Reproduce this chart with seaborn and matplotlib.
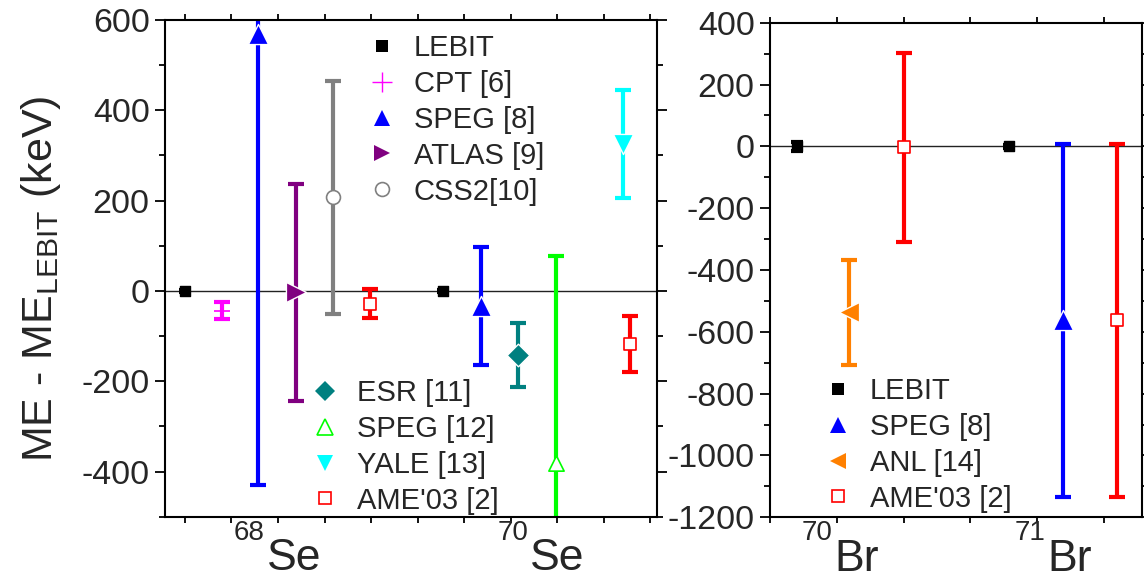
import matplotlib
matplotlib.use("Agg")
import matplotlib.pyplot as plt
import matplotlib.transforms as mtransforms
from matplotlib.lines import Line2D
from matplotlib.ticker import MultipleLocator, NullFormatter
import seaborn as sns
import pandas as pd

# ---- Data: mass excess differences relative to LEBIT (keV) ----
# Se isotopes (68Se, 70Se)
se_sources = ["LEBIT", "CPT [6]", "SPEG [8]", "ATLAS [9]", "CSS2[10]", "AME'03 [2]",
              "LEBIT", "SPEG [8]", "ESR [11]", "SPEG [12]", "YALE [13]", "AME'03 [2]"]
se_values = [0, -44, 570, -3, 208, -28,
             0, -33, -142, -380, 325, -118]
se_errors = [2, 19, 1000, 240, 258, 32,
             2, 130, 70, 457, 120, 62]

# Br isotopes (70Br, 71Br)
br_sources = ["LEBIT", "ANL [14]", "AME'03 [2]",
              "LEBIT", "SPEG [8]", "AME'03 [2]"]
br_values = [0, -537, -3, 0, -563, -563]
br_errors = [15, 170, 306, 5, 570, 570]

# Isotope labels under each panel
se_isotopes = [("68", "Se"), ("70", "Se")]
br_isotopes = [("70", "Br"), ("71", "Br")]

# ---- Layout: horizontal slots of each measurement ----
se_slots = [0.0, 0.8, 1.57, 2.39, 3.18, 3.98, 5.55, 6.37, 7.16, 7.98, 9.42, 9.57]
br_slots = [0.40, 1.18, 2.0, 3.58, 4.38, 5.19]
se_label_x = [1.76, 7.42]
br_label_x = [0.96, 4.15]

# marker, colour, filled, marker size (pt)
styles = {
    "LEBIT":      ("s", "#000000", True, 7),
    "CPT [6]":    ("+", "#FF00FF", True, 11),
    "SPEG [8]":   ("^", "#0000FF", True, 12),
    "ATLAS [9]":  (">", "#800080", True, 12),
    "CSS2[10]":   ("o", "#808080", False, 10),
    "AME'03 [2]": ("s", "#FF0000", False, 9),
    "ESR [11]":   ("D", "#008080", True, 9),
    "SPEG [12]":  ("^", "#00FF00", False, 11),
    "YALE [13]":  ("v", "#00FFFF", True, 12),
    "ANL [14]":   ("<", "#FF8000", True, 12),
}

sns.set_theme(style="ticks")
plt.rcParams["font.family"] = ["Liberation Sans", "DejaVu Sans"]
plt.rcParams["mathtext.fontset"] = "custom"
plt.rcParams["mathtext.rm"] = "Liberation Sans"
plt.rcParams["mathtext.it"] = "Liberation Sans:italic"
plt.rcParams["mathtext.bf"] = "Liberation Sans:bold"
plt.rcParams["axes.unicode_minus"] = False

fig = plt.figure(figsize=(11.44, 5.82), dpi=100)
ax1 = fig.add_axes([0.1442, 0.1122, 0.4298, 0.8534])
ax2 = fig.add_axes([0.6731, 0.1112, 0.3252, 0.8498])


def draw_panel(ax, slots, sources, values, errors):
    df = pd.DataFrame({"x": slots, "y": values, "err": errors, "src": sources})
    ax.axhline(0, color="#222222", lw=1.0, zorder=1)
    for _, row in df.iterrows():
        marker, color, filled, ms = styles[row.src]
        lebit = row.src == "LEBIT"
        ax.errorbar(row.x, row.y, yerr=row.err, fmt="none", ecolor=color,
                    elinewidth=3.0, capsize=4 if lebit else 6, capthick=3.0,
                    zorder=2)
        if marker == "+":
            sns.scatterplot(x=[row.x], y=[row.y], marker="+", s=ms ** 2,
                            color=color, linewidth=1.2, ax=ax, zorder=3,
                            legend=False)
        elif lebit:
            sns.scatterplot(x=[row.x], y=[row.y], marker=marker, s=ms ** 2,
                            color=color, edgecolor=color, linewidth=1.0,
                            ax=ax, zorder=3, legend=False)
        elif filled:
            sns.scatterplot(x=[row.x], y=[row.y], marker=marker,
                            s=(ms + 2.5) ** 2, color=color, edgecolor="white",
                            linewidth=1.0, ax=ax, zorder=3, legend=False)
        else:
            sns.scatterplot(x=[row.x], y=[row.y], marker=marker, s=ms ** 2,
                            color="white", edgecolor=color, linewidth=1.2,
                            ax=ax, zorder=3, legend=False)
    ax.set_xlabel("")
    ax.set_ylabel("")


draw_panel(ax1, se_slots, se_sources, se_values, se_errors)
draw_panel(ax2, br_slots, br_sources, br_values, br_errors)

ax1.set_xlim(-0.43, 10.14)
ax1.set_ylim(-500, 600)
ax1.xaxis.set_major_locator(MultipleLocator(1))
ax1.yaxis.set_major_locator(MultipleLocator(200))
ax1.yaxis.set_minor_locator(MultipleLocator(100))

ax2.set_xlim(0, 5.57)
ax2.set_ylim(-1200, 400)
ax2.xaxis.set_major_locator(MultipleLocator(1))
ax2.yaxis.set_major_locator(MultipleLocator(200))
ax2.yaxis.set_minor_locator(MultipleLocator(100))

for ax in (ax1, ax2):
    ax.xaxis.set_major_formatter(NullFormatter())
    for side in ("top", "bottom", "left", "right"):
        ax.spines[side].set_visible(True)
        ax.spines[side].set_linewidth(1.5)
        ax.spines[side].set_color("black")
    ax.tick_params(axis="both", which="both", direction="out", color="black",
                   top=True, right=True, width=1.3)
    ax.tick_params(axis="x", which="major", length=4)
    ax.tick_params(axis="y", which="major", length=7, labelsize=24.5, pad=4)
    ax.tick_params(axis="y", which="minor", length=4)
    ax.grid(False)

ax1.set_ylabel(r"ME - ME$_{\mathrm{LEBIT}}$ (keV)", fontsize=31)
ax1.yaxis.set_label_coords(-0.208, 0.478)


def legend_handle(src):
    marker, color, filled, ms = styles[src]
    if marker == "+":
        return Line2D([], [], ls="none", marker="+", ms=ms + 3, mew=1.0, color=color)
    if src == "LEBIT":
        ms = 8
    if src == "ESR [11]":
        ms = 10
    return Line2D([], [], ls="none", marker=marker, ms=ms,
                  mfc=color if filled else "white", mec=color,
                  mew=0 if filled else 1.2)


def add_legend(ax, srcs, anchor):
    leg = ax.legend([legend_handle(s) for s in srcs], srcs, loc="upper left",
                    bbox_to_anchor=anchor, bbox_transform=fig.transFigure,
                    frameon=False, fontsize=21, handlelength=1.0,
                    handletextpad=0.6, labelspacing=0.27, borderpad=0,
                    borderaxespad=0)
    return leg


leg1 = add_legend(ax1, ["LEBIT", "CPT [6]", "SPEG [8]", "ATLAS [9]", "CSS2[10]"],
                  (367 / 1144, 1 - 34 / 582))
ax1.add_artist(leg1)
add_legend(ax1, ["ESR [11]", "SPEG [12]", "YALE [13]", "AME'03 [2]"],
           (310 / 1144, 1 - 379 / 582))
add_legend(ax2, ["LEBIT", "SPEG [8]", "ANL [14]", "AME'03 [2]"],
           (823 / 1144, 1 - 377 / 582))


def isotope_labels(ax, xs, isotopes):
    trans = mtransforms.blended_transform_factory(ax.transData, ax.transAxes)
    for x, (mass, elem) in zip(xs, isotopes):
        ax.text(x, -0.108, elem, transform=trans, ha="left", va="baseline",
                fontsize=32, clip_on=False)
        ax.annotate(mass, xy=(x, -0.108), xycoords=trans, xytext=(-1.5, 22),
                    textcoords="offset points", ha="right", va="baseline",
                    fontsize=20, annotation_clip=False)


isotope_labels(ax1, se_label_x, se_isotopes)
isotope_labels(ax2, br_label_x, br_isotopes)

fig.savefig("out.png", dpi=100)
